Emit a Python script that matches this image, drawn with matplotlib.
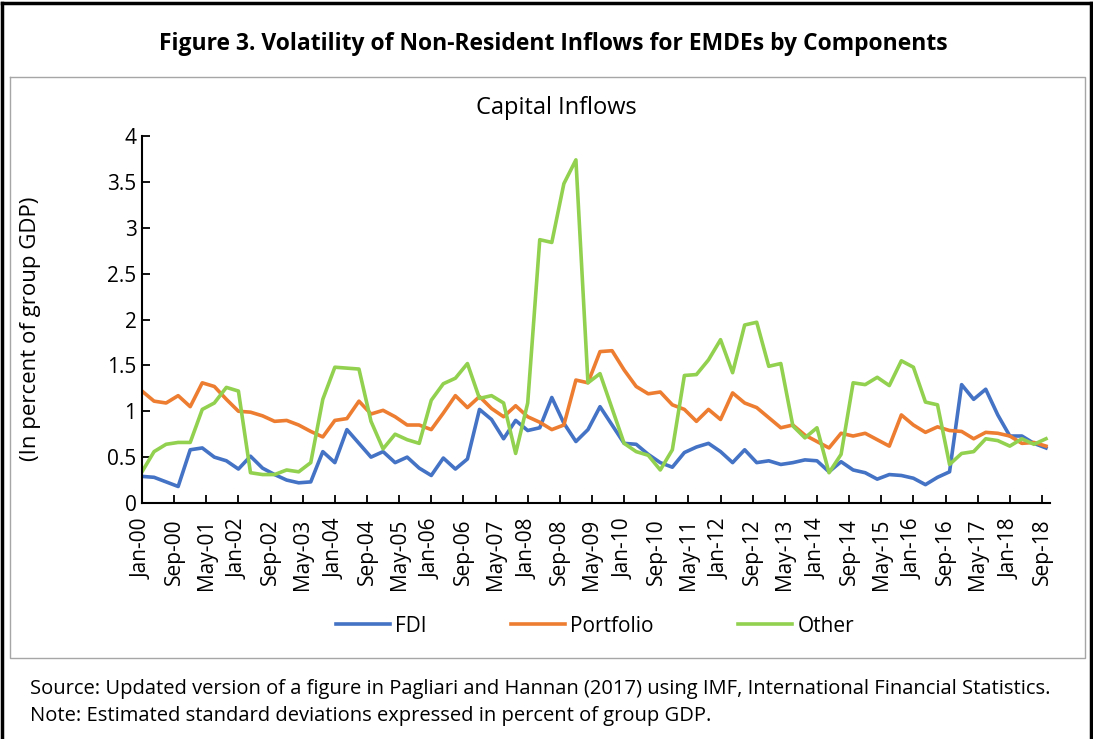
import pandas as pd
import matplotlib
matplotlib.use("Agg")
import matplotlib.pyplot as plt
from matplotlib.lines import Line2D

plt.rcParams["font.family"] = ["Open Sans", "DejaVu Sans"]

# quarterly observations, 2000Q1 - 2018Q4
dates = pd.date_range("2000-01-01", periods=76, freq="QS")

fdi = [0.29, 0.28, 0.23, 0.18, 0.58, 0.60, 0.50, 0.46, 0.37, 0.51,
       0.38, 0.31, 0.25, 0.22, 0.23, 0.56, 0.44, 0.80, 0.65, 0.50,
       0.56, 0.44, 0.50, 0.38, 0.30, 0.49, 0.37, 0.48, 1.02, 0.91,
       0.70, 0.90, 0.79, 0.82, 1.15, 0.87, 0.67, 0.80, 1.05, 0.85,
       0.65, 0.64, 0.53, 0.44, 0.39, 0.55, 0.61, 0.65, 0.56, 0.44,
       0.58, 0.44, 0.46, 0.42, 0.44, 0.47, 0.46, 0.34, 0.45, 0.36,
       0.33, 0.26, 0.31, 0.30, 0.27, 0.20, 0.28, 0.34, 1.29, 1.13,
       1.24, 0.96, 0.73, 0.73, 0.65, 0.60]

portfolio = [1.22, 1.11, 1.09, 1.17, 1.05, 1.31, 1.27, 1.13, 1.00, 0.99,
             0.95, 0.89, 0.90, 0.85, 0.78, 0.72, 0.90, 0.92, 1.11, 0.97,
             1.01, 0.94, 0.85, 0.85, 0.80, 0.98, 1.17, 1.04, 1.16, 1.03,
             0.94, 1.06, 0.94, 0.88, 0.80, 0.85, 1.34, 1.31, 1.65, 1.66,
             1.45, 1.27, 1.19, 1.21, 1.07, 1.02, 0.89, 1.02, 0.91, 1.20,
             1.09, 1.04, 0.93, 0.82, 0.85, 0.74, 0.67, 0.60, 0.76, 0.73,
             0.76, 0.69, 0.62, 0.96, 0.85, 0.77, 0.83, 0.79, 0.78, 0.70,
             0.77, 0.76, 0.73, 0.65, 0.66, 0.62]

other = [0.34, 0.56, 0.64, 0.66, 0.66, 1.02, 1.09, 1.26, 1.22, 0.33,
         0.31, 0.31, 0.36, 0.34, 0.44, 1.13, 1.48, 1.47, 1.46, 0.89,
         0.59, 0.75, 0.69, 0.65, 1.12, 1.30, 1.36, 1.52, 1.14, 1.17,
         1.09, 0.54, 1.09, 2.87, 2.84, 3.48, 3.74, 1.31, 1.41, 1.03,
         0.65, 0.56, 0.52, 0.36, 0.58, 1.39, 1.40, 1.56, 1.78, 1.42,
         1.94, 1.97, 1.49, 1.52, 0.84, 0.71, 0.82, 0.33, 0.53, 1.31,
         1.29, 1.37, 1.28, 1.55, 1.48, 1.10, 1.07, 0.42, 0.54, 0.56,
         0.70, 0.68, 0.62, 0.70, 0.64, 0.70]

tick_labels = ["Jan-00", "Sep-00", "May-01", "Jan-02", "Sep-02", "May-03",
               "Jan-04", "Sep-04", "May-05", "Jan-06", "Sep-06", "May-07",
               "Jan-08", "Sep-08", "May-09", "Jan-10", "Sep-10", "May-11",
               "Jan-12", "Sep-12", "May-13", "Jan-14", "Sep-14", "May-15",
               "Jan-16", "Sep-16", "May-17", "Jan-18", "Sep-18"]

# months since Jan-2000
x = (dates.year - 2000) * 12 + dates.month - 1
tick_pos = [8 * k for k in range(len(tick_labels))]

fig = plt.figure(figsize=(10.93, 7.39), dpi=100)
W, H = 1093, 739

ax = fig.add_axes([142 / W, 1 - 503 / H, 908 / W, 367 / H])
ax.plot(x, fdi, color="#4472C4", lw=2.6, label="FDI")
ax.plot(x, portfolio, color="#ED7D31", lw=2.6, label="Portfolio")
ax.plot(x, other, color="#92D050", lw=2.6, label="Other")

ax.set_xlim(0, 226)
ax.set_ylim(0, 4)
ax.set_yticks([0, 0.5, 1, 1.5, 2, 2.5, 3, 3.5, 4])
ax.set_yticklabels(["0", "0.5", "1", "1.5", "2", "2.5", "3", "3.5", "4"])
ax.set_xticks(tick_pos)
ax.set_xticklabels(tick_labels, rotation=90)
ax.tick_params(axis="both", direction="in", length=6, width=1.3, labelsize=15)
ax.tick_params(axis="y", pad=4)
ax.tick_params(axis="x", pad=11)
for s in ["top", "right"]:
    ax.spines[s].set_visible(False)
for s in ["left", "bottom"]:
    ax.spines[s].set_linewidth(1.5)

fig.text(31 / W, 1 - 329 / H, "(In percent of group GDP)", rotation=90,
         ha="center", va="center", fontsize=16)
fig.text(556 / W, 1 - 108 / H, "Capital Inflows", ha="center", va="center",
         fontsize=17)
fig.text(553 / W, 1 - 44 / H,
         "Figure 3. Volatility of Non-Resident Inflows for EMDEs by Components",
         ha="center", va="center", fontsize=16.5, fontweight="bold")

fig.legend(loc="center", bbox_to_anchor=(595 / W, 1 - 626 / H), ncol=3,
           frameon=False, fontsize=15, handlelength=2.6, handletextpad=0.25,
           columnspacing=4.05)

fig.text(30 / W, 1 - 689 / H,
         "Source: Updated version of a figure in Pagliari and Hannan (2017) "
         "using IMF, International Financial Statistics.",
         ha="left", va="center", fontsize=14.5)
fig.text(30 / W, 1 - 716 / H,
         "Note: Estimated standard deviations expressed in percent of group GDP.",
         ha="left", va="center", fontsize=14.5)

# outer frame and inner chart box
for xs, ys, c, lw in [
    ([1.5, 1.5], [0, H - 3], "black", 2.5),
    ([1.5, W - 2], [H - 3, H - 3], "black", 2.5),
    ([W - 2, W - 2], [H - 3, 0], "black", 2.5),
    ([10, 1085, 1085, 10, 10], [H - 77, H - 77, H - 658, H - 658, H - 77], "#A6A6A6", 1.0),
]:
    fig.add_artist(Line2D([v / W for v in xs], [v / H for v in ys],
                          color=c, lw=lw, transform=fig.transFigure))

fig.savefig("out.png", dpi=100)
